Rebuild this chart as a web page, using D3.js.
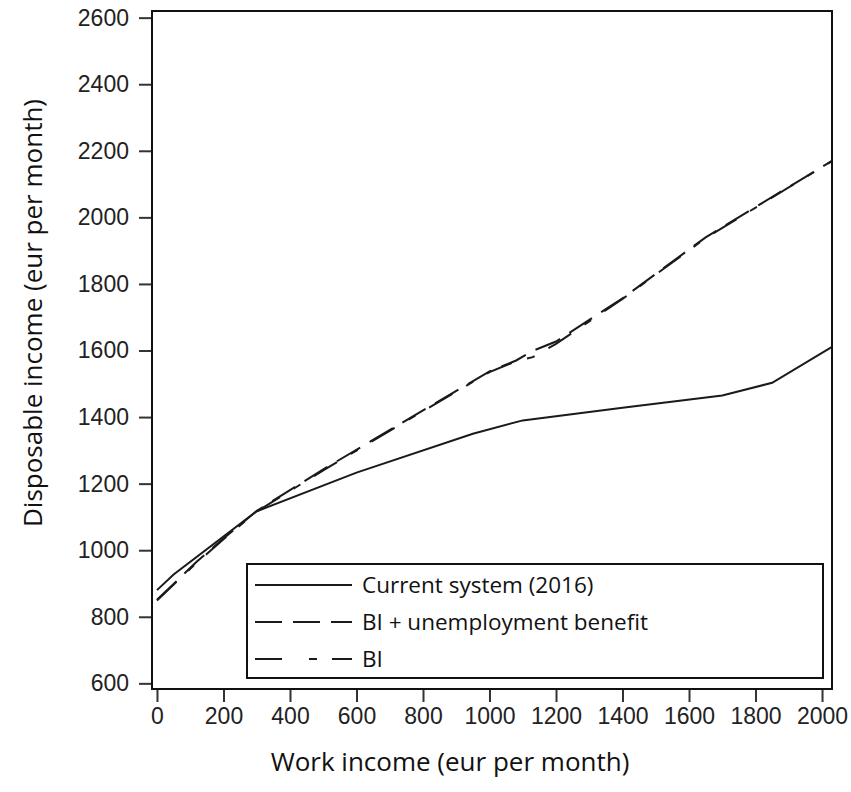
<!DOCTYPE html>
<html>
  <head>
    <title>Disposable income</title>
    <script src="https://cdn.jsdelivr.net/npm/d3@7"></script>
    <style>
      body { margin: 0; background: #fff; }
      .tick text { font-family: "Liberation Sans", Arial, sans-serif; font-size: 23px; fill: #222; }
      .title { font-family: "Open Sans", sans-serif; font-size: 26px; fill: #111; }
      .legend text { font-family: "Open Sans", sans-serif; font-size: 22.5px; fill: #111; }
    </style>
  </head>
  <body>
    <svg width="851" height="792" id="mainsvg"></svg>
    <script>
      // data
      const seriesNames = ['Current system (2016)', 'BI + unemployment benefit', 'BI'];
      const currentX = [0, 50, 300, 600, 950, 1100, 1400, 1700, 1850, 2030];
      const currentY = [880, 927, 1117, 1233, 1350, 1390, 1428, 1465, 1503, 1611];
      const biUbX = [0, 120, 200, 300, 500, 800, 1000, 1080, 1130, 1200, 1400, 1650, 2030];
      const biUbY = [851, 966, 1035, 1118, 1243, 1420, 1537, 1570, 1599, 1627, 1757, 1940, 2170];
      const biX = [0, 120, 200, 300, 500, 800, 1000, 1080, 1130, 1200, 1400, 1650, 2030];
      const biY = [849, 963, 1033, 1116, 1240, 1418, 1535, 1568, 1580, 1620, 1755, 1938, 2169];
      const xTicks = [0, 200, 400, 600, 800, 1000, 1200, 1400, 1600, 1800, 2000];
      const yTicks = [600, 800, 1000, 1200, 1400, 1600, 1800, 2000, 2200, 2400, 2600];
      const dashes = [null, '27,11', '27,16,8,16'];

      const svg = d3.select('#mainsvg');
      const width = +svg.attr('width');
      const height = +svg.attr('height');
      const margin = {top: 11, right: 19, bottom: 103, left: 152};
      const innerWidth = width - margin.left - margin.right;
      const innerHeight = height - margin.top - margin.bottom;
      const g = svg.append('g').attr('id', 'maingroup')
        .attr('transform', `translate(${margin.left}, ${margin.top})`);

      const xScale = d3.scaleLinear().domain([-15, 2030]).range([0, innerWidth]);
      const yScale = d3.scaleLinear().domain([583, 2620]).range([innerHeight, 0]);

      const xAxis = g.append('g').attr('transform', `translate(0, ${innerHeight})`)
        .call(d3.axisBottom(xScale).tickValues(xTicks).tickSize(13).tickPadding(6).tickFormat(d3.format('d')));
      const yAxis = g.append('g')
        .call(d3.axisLeft(yScale).tickValues(yTicks).tickSize(13).tickPadding(10).tickFormat(d3.format('d')));
      [xAxis, yAxis].forEach(a => {
        a.select('.domain').remove();
        a.selectAll('.tick line').attr('stroke', '#333').attr('stroke-width', 2);
      });

      const series = [
        currentX.map((x, i) => ({x: x, y: currentY[i]})),
        biUbX.map((x, i) => ({x: x, y: biUbY[i]})),
        biX.map((x, i) => ({x: x, y: biY[i]}))
      ];
      const line = d3.line().x(d => xScale(d.x)).y(d => yScale(d.y));

      g.selectAll('path.series').data(series).join('path')
        .attr('class', 'series')
        .attr('d', line)
        .attr('fill', 'none')
        .attr('stroke', '#1a1a1a')
        .attr('stroke-width', 2)
        .attr('stroke-dasharray', (d, i) => dashes[i]);

      // frame
      g.append('rect').attr('width', innerWidth).attr('height', innerHeight)
        .attr('fill', 'none').attr('stroke', '#111').attr('stroke-width', 2);

      // legend
      const legend = g.append('g').attr('class', 'legend')
        .attr('transform', `translate(${247 - margin.left}, ${564 - margin.top})`);
      legend.append('rect').attr('width', 576).attr('height', 114)
        .attr('fill', '#fff').attr('stroke', '#111').attr('stroke-width', 2);
      const rows = legend.selectAll('g.row').data(seriesNames).join('g')
        .attr('class', 'row')
        .attr('transform', (d, i) => `translate(0, ${21 + i * 37})`);
      rows.append('line').attr('x1', 8).attr('x2', 105)
        .attr('stroke', '#1a1a1a').attr('stroke-width', 2)
        .attr('stroke-dasharray', (d, i) => i === 2 ? '27,27,8,15,27' : dashes[i]);
      rows.append('text').attr('x', 115).attr('dy', '0.35em').text(d => d);

      // axis titles
      svg.append('text').attr('class', 'title')
        .attr('x', 450).attr('y', 771)
        .attr('text-anchor', 'middle').text('Work income (eur per month)');
      svg.append('text').attr('class', 'title')
        .attr('transform', `translate(42, 313) rotate(-90)`)
        .attr('text-anchor', 'middle').text('Disposable income (eur per month)');
    </script>
  </body>
</html>
